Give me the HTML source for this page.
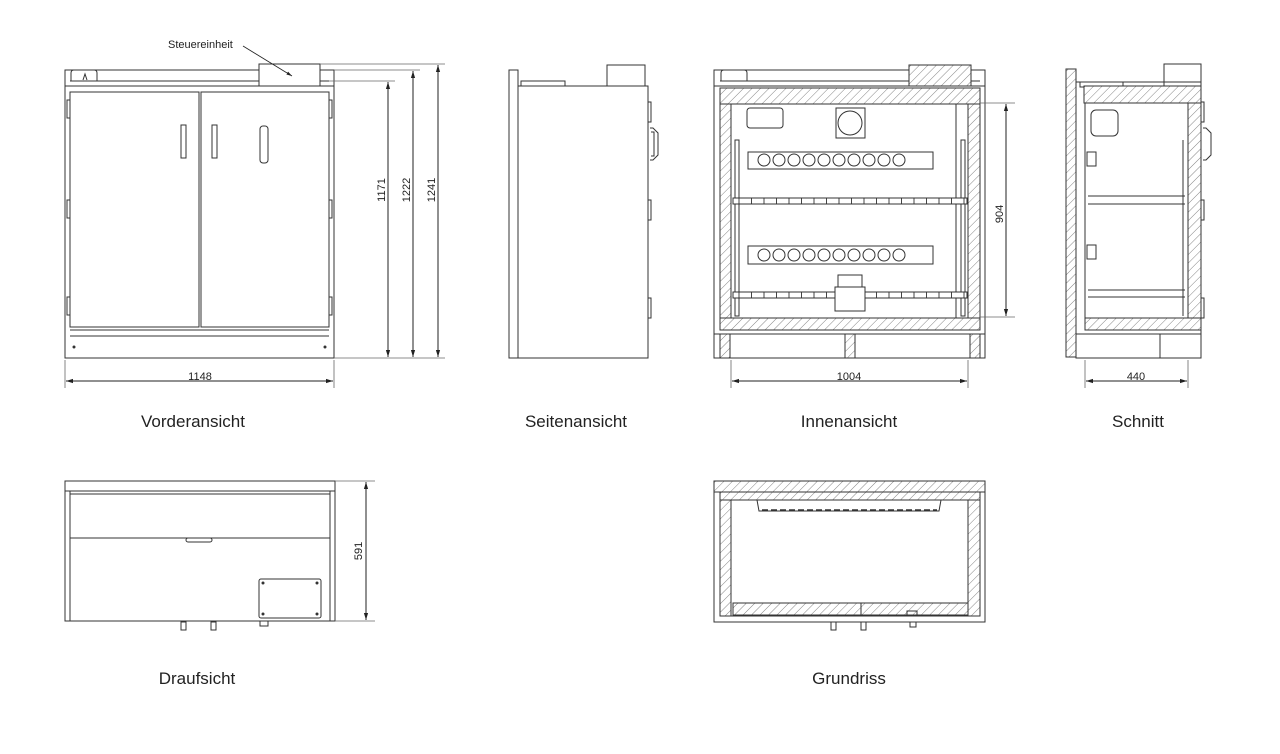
<!DOCTYPE html>
<html><head><meta charset="utf-8"><style>
html,body{margin:0;padding:0;background:#fff;}
svg{display:block;}
text{font-family:"Liberation Sans",sans-serif;fill:#222;}
</style></head><body>
<svg width="1280" height="754" viewBox="0 0 1280 754" xmlns="http://www.w3.org/2000/svg">
<defs>
<pattern id="h" patternUnits="userSpaceOnUse" width="6" height="6" patternTransform="rotate(45)">
<rect width="6" height="6" fill="#fff"/><line x1="0" y1="0" x2="0" y2="6" stroke="#777" stroke-width="0.9"/></pattern>
<pattern id="t" patternUnits="userSpaceOnUse" width="12.5" height="6" x="733">
<rect width="12.5" height="6" fill="#fff"/><line x1="6" y1="0" x2="6" y2="6" stroke="#444" stroke-width="1"/></pattern>
<marker id="a" viewBox="0 0 10 10" refX="10" refY="5" markerWidth="7" markerHeight="7" orient="auto-start-reverse"><path d="M0,2 L10,5 L0,8 z" fill="#222"/></marker>
</defs>
<g fill="none" stroke="#333" stroke-width="1">
<!-- FRONT VIEW -->
<rect x="65" y="70" width="269" height="288"/>
<line x1="70" y1="81" x2="329" y2="81"/><line x1="65" y1="86" x2="334" y2="86"/>
<path d="M71,81 v-8 q0,-3 3,-3 h20 q3,0 3,3 v8"/>
<path d="M83,80 l2,-6 l2,6"/>
<rect x="259" y="64" width="61" height="22" fill="#fff"/>
<rect x="70" y="92" width="129" height="235"/>
<rect x="201" y="92" width="128" height="235"/>
<line x1="70" y1="330" x2="329" y2="330"/><line x1="70" y1="336" x2="329" y2="336"/>
<rect x="181" y="125" width="5" height="33"/><rect x="212" y="125" width="5" height="33"/>
<rect x="260" y="126" width="8" height="37" rx="3"/>
<rect x="67" y="100" width="3" height="18"/><rect x="67" y="200" width="3" height="18"/><rect x="67" y="297" width="3" height="18"/>
<rect x="329" y="100" width="3" height="18"/><rect x="329" y="200" width="3" height="18"/><rect x="329" y="297" width="3" height="18"/>
<g stroke="#666" stroke-width="0.8">
<line x1="320" y1="64" x2="445" y2="64"/><line x1="334" y1="70" x2="420" y2="70"/><line x1="329" y1="81" x2="395" y2="81"/><line x1="334" y1="358" x2="445" y2="358"/>
<line x1="65" y1="360" x2="65" y2="388"/><line x1="334" y1="360" x2="334" y2="388"/>
</g>
<line x1="388" y1="82" x2="388" y2="357" stroke="#222" marker-start="url(#a)" marker-end="url(#a)"/>
<line x1="413" y1="71" x2="413" y2="357" stroke="#222" marker-start="url(#a)" marker-end="url(#a)"/>
<line x1="438" y1="65" x2="438" y2="357" stroke="#222" marker-start="url(#a)" marker-end="url(#a)"/>
<line x1="66" y1="381" x2="333" y2="381" stroke="#222" marker-start="url(#a)" marker-end="url(#a)"/>
<line x1="243" y1="46" x2="292" y2="76" stroke="#222" stroke-width="0.8" marker-end="url(#a)"/>

<!-- SIDE VIEW -->
<rect x="509" y="70" width="9" height="288"/>
<rect x="518" y="86" width="130" height="272"/>
<rect x="521" y="81" width="44" height="5"/>
<rect x="607" y="65" width="38" height="21"/>
<rect x="648" y="102" width="3" height="20"/><rect x="648" y="200" width="3" height="20"/><rect x="648" y="298" width="3" height="20"/>
<path d="M650,128 h3 l5,5 v22 l-5,5 h-3 M651,132 h3 v24 h-3"/>

<!-- INNER VIEW -->
<rect x="714" y="70" width="271" height="288"/>
<line x1="720" y1="81" x2="980" y2="81"/><line x1="714" y1="86" x2="985" y2="86"/>
<path d="M721,81 v-8 q0,-3 3,-3 h20 q3,0 3,3 v8"/>
<rect x="909" y="65" width="62" height="21" fill="url(#h)"/>
<rect x="720" y="88" width="260" height="16" fill="url(#h)"/>
<rect x="720" y="104" width="11" height="214" fill="url(#h)"/>
<rect x="968" y="104" width="12" height="214" fill="url(#h)"/>
<rect x="720" y="318" width="260" height="12" fill="url(#h)"/>
<line x1="714" y1="334" x2="985" y2="334"/>
<rect x="720" y="334" width="10" height="24" fill="url(#h)"/><rect x="845" y="334" width="10" height="24" fill="url(#h)"/><rect x="970" y="334" width="10" height="24" fill="url(#h)"/>
<line x1="956" y1="104" x2="956" y2="318"/>
<rect x="735" y="140" width="4" height="176"/><rect x="961" y="140" width="4" height="176"/>
<rect x="733" y="198" width="234" height="6" fill="url(#t)"/><rect x="733" y="292" width="234" height="6" fill="url(#t)"/>
<rect x="748" y="152" width="185" height="17"/><rect x="748" y="246" width="185" height="18"/>
<g>
<circle cx="764" cy="160" r="6"/><circle cx="779" cy="160" r="6"/><circle cx="794" cy="160" r="6"/><circle cx="809" cy="160" r="6"/><circle cx="824" cy="160" r="6"/><circle cx="839" cy="160" r="6"/><circle cx="854" cy="160" r="6"/><circle cx="869" cy="160" r="6"/><circle cx="884" cy="160" r="6"/><circle cx="899" cy="160" r="6"/>
<circle cx="764" cy="255" r="6"/><circle cx="779" cy="255" r="6"/><circle cx="794" cy="255" r="6"/><circle cx="809" cy="255" r="6"/><circle cx="824" cy="255" r="6"/><circle cx="839" cy="255" r="6"/><circle cx="854" cy="255" r="6"/><circle cx="869" cy="255" r="6"/><circle cx="884" cy="255" r="6"/><circle cx="899" cy="255" r="6"/>
</g>
<rect x="836" y="108" width="29" height="30"/><circle cx="850" cy="123" r="12"/>
<rect x="747" y="108" width="36" height="20" rx="3"/>
<rect x="838" y="275" width="24" height="12"/><rect x="835" y="287" width="30" height="24" fill="#fff"/>
<g stroke="#666" stroke-width="0.8"><line x1="980" y1="103" x2="1015" y2="103"/><line x1="980" y1="317" x2="1015" y2="317"/>
<line x1="731" y1="360" x2="731" y2="388"/><line x1="968" y1="360" x2="968" y2="388"/></g>
<line x1="1006" y1="104" x2="1006" y2="316" stroke="#222" marker-start="url(#a)" marker-end="url(#a)"/>
<line x1="732" y1="381" x2="967" y2="381" stroke="#222" marker-start="url(#a)" marker-end="url(#a)"/>

<!-- SCHNITT -->
<rect x="1066" y="69" width="10" height="288" fill="url(#h)"/>
<rect x="1076" y="82" width="125" height="276"/>
<rect x="1080" y="82" width="43" height="5"/>
<rect x="1164" y="64" width="37" height="22"/>
<rect x="1084" y="86" width="117" height="17" fill="url(#h)"/>
<rect x="1188" y="103" width="13" height="215" fill="url(#h)"/>
<rect x="1085" y="318" width="116" height="12" fill="url(#h)"/>
<line x1="1076" y1="334" x2="1201" y2="334"/><line x1="1160" y1="334" x2="1160" y2="358"/>
<line x1="1085" y1="103" x2="1085" y2="318"/>
<line x1="1088" y1="196" x2="1185" y2="196"/><line x1="1088" y1="204" x2="1185" y2="204"/>
<line x1="1088" y1="290" x2="1185" y2="290"/><line x1="1088" y1="297" x2="1185" y2="297"/>
<line x1="1183" y1="140" x2="1183" y2="316"/>
<rect x="1091" y="110" width="27" height="26" rx="5"/>
<rect x="1087" y="152" width="9" height="14"/><rect x="1087" y="245" width="9" height="14"/>
<rect x="1201" y="102" width="3" height="20"/><rect x="1201" y="200" width="3" height="20"/><rect x="1201" y="298" width="3" height="20"/>
<path d="M1203,128 h3 l5,5 v22 l-5,5 h-3"/>
<g stroke="#666" stroke-width="0.8"><line x1="1085" y1="360" x2="1085" y2="388"/><line x1="1188" y1="360" x2="1188" y2="388"/></g>
<line x1="1086" y1="381" x2="1187" y2="381" stroke="#222" marker-start="url(#a)" marker-end="url(#a)"/>

<!-- DRAUFSICHT -->
<rect x="65" y="481" width="270" height="10"/>
<path d="M65,491 V621 H335 V491"/>
<line x1="70" y1="491" x2="70" y2="621"/><line x1="330" y1="491" x2="330" y2="621"/>
<line x1="70" y1="494" x2="330" y2="494"/>
<line x1="70" y1="538" x2="330" y2="538"/>
<rect x="186" y="538" width="26" height="4" rx="2"/>
<rect x="259" y="579" width="62" height="39" rx="2"/>
<rect x="181" y="622" width="5" height="8"/><rect x="211" y="622" width="5" height="8"/><rect x="260" y="621" width="8" height="5"/>
<g stroke="#666" stroke-width="0.8"><line x1="335" y1="481" x2="375" y2="481"/><line x1="335" y1="621" x2="375" y2="621"/></g>
<line x1="366" y1="482" x2="366" y2="620" stroke="#222" marker-start="url(#a)" marker-end="url(#a)"/>

<!-- GRUNDRISS -->
<rect x="714" y="481" width="271" height="141"/>
<rect x="714" y="481" width="271" height="11" fill="url(#h)"/>
<rect x="720" y="492" width="260" height="8" fill="url(#h)"/>
<rect x="720" y="500" width="11" height="116" fill="url(#h)"/>
<rect x="968" y="500" width="12" height="116" fill="url(#h)"/>
<rect x="733" y="603" width="235" height="12" fill="url(#h)"/>
<line x1="720" y1="616" x2="980" y2="616"/>
<path d="M757,500 l2,11 h180 l2,-11"/>
<line x1="762" y1="510" x2="937" y2="510" stroke-dasharray="6,3" stroke-width="1.5"/>
<line x1="861" y1="603" x2="861" y2="615"/>
<rect x="907" y="611" width="10" height="5"/>
<rect x="831" y="622" width="5" height="8"/><rect x="861" y="622" width="5" height="8"/><rect x="910" y="622" width="6" height="5"/>
</g>
<g fill="#333">
<circle cx="74" cy="347" r="1.5"/><circle cx="325" cy="347" r="1.5"/>
<circle cx="263" cy="583" r="1.5"/><circle cx="317" cy="583" r="1.5"/><circle cx="263" cy="614" r="1.5"/><circle cx="317" cy="614" r="1.5"/>
</g>
<g font-size="11">
<text x="168" y="48">Steuereinheit</text>
<text x="200" y="380" text-anchor="middle">1148</text>
<text x="849" y="380" text-anchor="middle">1004</text>
<text x="1136" y="380" text-anchor="middle">440</text>
<text transform="translate(385,190) rotate(-90)" text-anchor="middle">1171</text>
<text transform="translate(410,190) rotate(-90)" text-anchor="middle">1222</text>
<text transform="translate(435,190) rotate(-90)" text-anchor="middle">1241</text>
<text transform="translate(1003,214) rotate(-90)" text-anchor="middle">904</text>
<text transform="translate(362,551) rotate(-90)" text-anchor="middle">591</text>
</g>
<g font-size="17" text-anchor="middle">
<text x="193" y="427">Vorderansicht</text>
<text x="576" y="427">Seitenansicht</text>
<text x="849" y="427">Innenansicht</text>
<text x="1138" y="427">Schnitt</text>
<text x="197" y="684">Draufsicht</text>
<text x="849" y="684">Grundriss</text>
</g>
</svg>
</body></html>
